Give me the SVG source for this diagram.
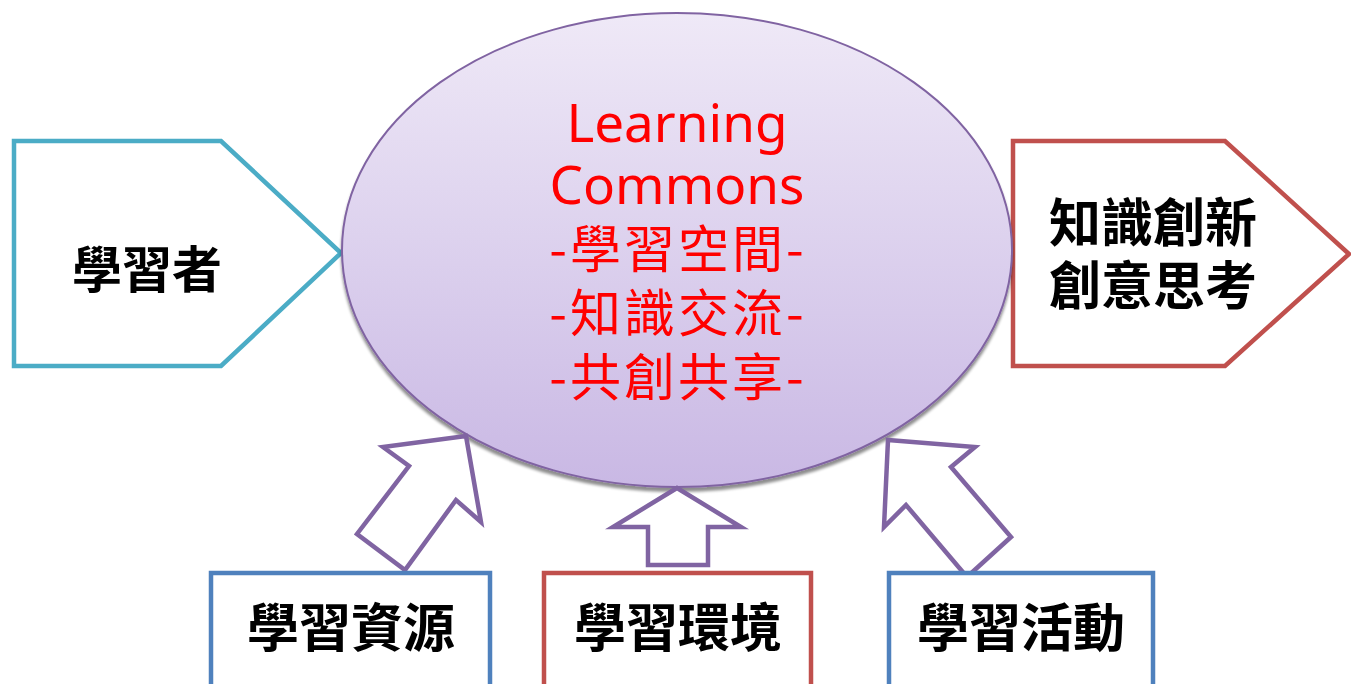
<svg xmlns="http://www.w3.org/2000/svg" width="1351" height="684" viewBox="0 0 1351 684">
<defs>
<linearGradient id="eg" x1="0" y1="0" x2="0" y2="1">
<stop offset="0" stop-color="#EFE9F7"/>
<stop offset="1" stop-color="#C9B8E4"/>
</linearGradient>
<filter id="sh" x="-5%" y="-5%" width="110%" height="115%">
<feGaussianBlur in="SourceAlpha" stdDeviation="1.5"/>
<feOffset dy="4" result="b"/>
<feComponentTransfer><feFuncA type="linear" slope="0.45"/></feComponentTransfer>
<feMerge><feMergeNode/><feMergeNode in="SourceGraphic"/></feMerge>
</filter>
</defs>
<style>
.lbl{font-family:"Noto Sans CJK TC","Noto Sans CJK SC",sans-serif;font-weight:bold;fill:#000;text-anchor:middle}
.red{font-family:"Noto Sans","Noto Sans CJK TC",sans-serif;fill:#FF0000;text-anchor:middle}
.cjk{font-family:"Noto Sans CJK TC","Noto Sans CJK SC",sans-serif;font-size:51px;letter-spacing:3px}
.arr{fill:#FFFFFF;stroke:#8064A2;stroke-width:4.5;stroke-linejoin:miter}
.box{fill:#FFFFFF;stroke-width:4.5}
</style>
<rect width="1351" height="684" fill="#FFFFFF"/>
<g id="learner">
<polygon class="box" stroke="#4BACC6" points="14,141 221,141 341,253 221,366 14,366"/>
<text class="lbl" x="147" y="288" font-size="50">學習者</text>
</g>
<g id="innovation">
<polygon class="box" stroke="#C0504D" points="1013,141 1225,141 1349,254 1225,366 1013,366"/>
<text class="lbl" font-size="52"><tspan x="1153" y="242">知識創新</tspan><tspan x="1153" y="305">創意思考</tspan></text>
</g>
<g id="commons">
<ellipse cx="677" cy="250" rx="335" ry="237" fill="url(#eg)" stroke="#8064A2" stroke-width="2" filter="url(#sh)"/>
<text class="red" font-size="53"><tspan x="677" y="142">Learning</tspan><tspan x="677" y="204">Commons</tspan><tspan class="cjk" x="678" y="268">-學習空間-</tspan><tspan class="cjk" x="678" y="332">-知識交流-</tspan><tspan class="cjk" x="678" y="396">-共創共享-</tspan></text>
</g>
<g id="connectors">
<polygon class="arr" points="466,436 481,522 456,500 405,570 357,534 409,466 383,447"/>
<polygon class="arr" points="677,488 741,527 708,527 708,565 648,565 648,527 613,527"/>
<polygon class="arr" points="888,440 975,447 951,467 1011,537 967,577 906,505 884,527"/>
</g>
<g id="resources">
<rect class="box" stroke="#4F81BD" x="211" y="573" width="279" height="120"/>
<text class="lbl" x="351" y="647" font-size="52">學習資源</text>
</g>
<g id="environment">
<rect class="box" stroke="#C0504D" x="544" y="573" width="267" height="120"/>
<text class="lbl" x="678" y="647" font-size="52">學習環境</text>
</g>
<g id="activities">
<rect class="box" stroke="#4F81BD" x="889" y="573" width="264" height="120"/>
<text class="lbl" x="1021" y="647" font-size="52">學習活動</text>
</g>
</svg>
